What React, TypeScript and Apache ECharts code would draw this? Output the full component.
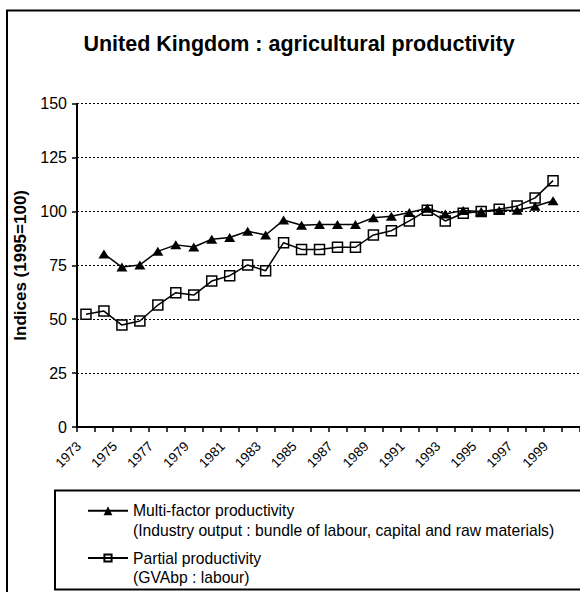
import React, { useEffect, useRef } from 'react';
import * as echarts from 'echarts';

const years = ['1973', '1974', '1975', '1976', '1977', '1978', '1979', '1980', '1981', '1982', '1983', '1984', '1985', '1986', '1987', '1988', '1989', '1990', '1991', '1992', '1993', '1994', '1995', '1996', '1997', '1998', '1999', '2000'];

const multiFactor = [null, 80.3, 74.2, 75.2, 81.5, 84.5, 83.5, 87.1, 87.9, 90.8, 89.1, 96.0, 93.6, 94.0, 94.0, 93.9, 97.1, 97.8, 99.5, 101.5, 98.8, 100.5, 100, 100.4, 100.6, 102.4, 105.0, null];

const partial = [52.3, 53.8, 47.3, 49.2, 56.6, 62.3, 61.2, 67.7, 70.2, 75.2, 72.5, 85.5, 82.4, 82.4, 83.4, 83.4, 89.1, 91.1, 95.6, 100.6, 95.6, 99.2, 100, 101.0, 102.5, 106.3, 114.3, null];

const multiName = 'Multi-factor productivity';
const multiNote = '(Industry output : bundle of labour, capital and raw materials)';
const partialName = 'Partial productivity';
const partialNote = '(GVAbp : labour)';

const FONT = "'Liberation Sans', Arial, Helvetica, sans-serif";

export default function App() {
  const ref = useRef<HTMLDivElement>(null);
  useEffect(() => {
    const chart = echarts.init(ref.current!, null, { renderer: 'svg' });
    chart.setOption({
      animation: false,
      backgroundColor: '#fff',
      textStyle: { fontFamily: FONT, color: '#000' },
      title: {
        text: 'United Kingdom : agricultural productivity',
        left: 294,
        top: 28,
        textAlign: 'center',
        textStyle: { fontSize: 21.5, fontWeight: 'bold', color: '#000', fontFamily: FONT },
      },
      grid: { left: 77, top: 103.7, width: 507, height: 323.3, containLabel: false },
      xAxis: {
        type: 'category',
        data: years,
        boundaryGap: true,
        axisLine: { lineStyle: { color: '#000', width: 2 } },
        axisTick: { show: true, interval: 0, length: 5, lineStyle: { color: '#000', width: 1.5 } },
        axisLabel: {
          interval: 1,
          rotate: 45,
          fontSize: 13.5,
          color: '#000',
          margin: 10,
          padding: [0, 10, 0, 0],
          fontFamily: FONT,
        },
        splitLine: { show: false },
      },
      yAxis: {
        type: 'value',
        min: 0,
        max: 150,
        interval: 25,
        name: 'Indices (1995=100)',
        nameLocation: 'middle',
        nameGap: 42,
        nameTextStyle: { fontSize: 17, fontWeight: 'bold', color: '#000', fontFamily: FONT },
        axisLine: { show: true, lineStyle: { color: '#000', width: 2 } },
        axisTick: { show: true, length: 5, lineStyle: { color: '#000', width: 1.5 } },
        axisLabel: { fontSize: 16, color: '#000', margin: 10, fontFamily: FONT },
        splitLine: { show: true, lineStyle: { color: '#000', width: 1, type: [2, 2] } },
      },
      legend: [
        {
          data: [multiName],
          left: 87,
          top: 481.5,
          orient: 'vertical',
          padding: 0,
          itemWidth: 40,
          itemHeight: 11,
          selectedMode: false,
          formatter: (n: string) => '\n' + n + '\n' + multiNote,
          textStyle: { fontSize: 15.7, lineHeight: 19.5, color: '#000', fontFamily: FONT },
        },
        {
          data: [partialName],
          left: 87,
          top: 528.75,
          orient: 'vertical',
          padding: 0,
          itemWidth: 40,
          itemHeight: 9,
          selectedMode: false,
          formatter: (n: string) => '\n' + n + '\n' + partialNote,
          textStyle: { fontSize: 15.7, lineHeight: 19.5, color: '#000', fontFamily: FONT },
        },
      ],
      graphic: [
        {
          type: 'rect',
          shape: { x: 7, y: 10.5, width: 700, height: 700 },
          style: { fill: 'none', stroke: '#000', lineWidth: 2 },
          silent: true,
        },
        {
          type: 'rect',
          shape: { x: 55, y: 490.5, width: 700, height: 99 },
          style: { fill: 'none', stroke: '#000', lineWidth: 2 },
          silent: true,
        },
      ],
      series: [
        {
          name: partialName,
          type: 'line',
          data: partial,
          symbol: 'rect',
          symbolSize: 10,
          showAllSymbol: true,
          itemStyle: { color: 'rgba(0,0,0,0)', borderColor: '#000', borderWidth: 1.5 },
          lineStyle: { color: '#000', width: 1.5 },
        },
        {
          name: multiName,
          type: 'line',
          data: multiFactor,
          symbol: 'triangle',
          symbolSize: [11, 9],
          showAllSymbol: true,
          itemStyle: { color: '#000' },
          lineStyle: { color: '#000', width: 1.5 },
        },
      ],
    });
    return () => chart.dispose();
  }, []);
  return (
    <div
      ref={ref}
      style={{ position: 'absolute', left: 0, top: 0, width: 580, height: 592, background: '#fff' }}
    />
  );
}
